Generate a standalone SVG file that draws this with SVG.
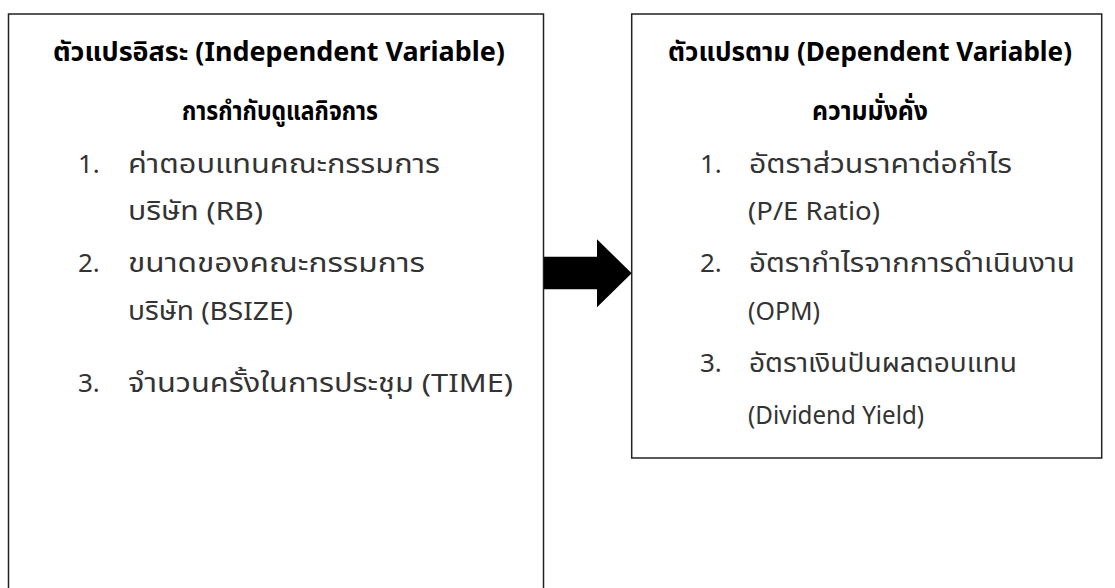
<svg xmlns="http://www.w3.org/2000/svg" width="1115" height="588" viewBox="0 0 1115 588">
<style>
.box{fill:#fff;stroke:#222;stroke-width:1.5}
.t{font-family:"Noto Sans","Noto Sans Thai",sans-serif;font-size:27px;font-weight:bold;fill:#000}
.b{font-family:"Noto Sans","Noto Sans Thai",sans-serif;font-size:26px;fill:#333}
</style>
<rect width="1115" height="588" fill="#fff"/>
<g id="independent">
<rect class="box" x="8.5" y="14" width="535" height="600"/>
<text class="t" x="53" y="61" textLength="452" lengthAdjust="spacingAndGlyphs">ตัวแปรอิสระ (Independent Variable)</text>
<text class="t" x="182" y="120" textLength="196" lengthAdjust="spacingAndGlyphs">การกำกับดูแลกิจการ</text>
<text class="b" x="78" y="173">1.</text>
<text class="b" x="128" y="173" textLength="312" lengthAdjust="spacingAndGlyphs">ค่าตอบแทนคณะกรรมการ</text>
<text class="b" x="128" y="220" textLength="135" lengthAdjust="spacingAndGlyphs">บริษัท (RB)</text>
<text class="b" x="78" y="272">2.</text>
<text class="b" x="128" y="272" textLength="297" lengthAdjust="spacingAndGlyphs">ขนาดของคณะกรรมการ</text>
<text class="b" x="128" y="320" textLength="165" lengthAdjust="spacingAndGlyphs">บริษัท (BSIZE)</text>
<text class="b" x="78" y="392">3.</text>
<text class="b" x="128" y="392" textLength="385" lengthAdjust="spacingAndGlyphs">จำนวนครั้งในการประชุม (TIME)</text>
</g>
<g id="dependent">
<rect class="box" x="631.7" y="14" width="470" height="444"/>
<text class="t" x="668" y="61" textLength="404" lengthAdjust="spacingAndGlyphs">ตัวแปรตาม (Dependent Variable)</text>
<text class="t" x="812" y="120" textLength="116" lengthAdjust="spacingAndGlyphs">ความมั่งคั่ง</text>
<text class="b" x="700" y="173">1.</text>
<text class="b" x="749" y="173" textLength="263" lengthAdjust="spacingAndGlyphs">อัตราส่วนราคาต่อกำไร</text>
<text class="b" x="748" y="220" textLength="132" lengthAdjust="spacingAndGlyphs">(P/E Ratio)</text>
<text class="b" x="700" y="272">2.</text>
<text class="b" x="749" y="272" textLength="326" lengthAdjust="spacingAndGlyphs">อัตรากำไรจากการดำเนินงาน</text>
<text class="b" x="748" y="320" textLength="72" lengthAdjust="spacingAndGlyphs">(OPM)</text>
<text class="b" x="700" y="372">3.</text>
<text class="b" x="749" y="372" textLength="268" lengthAdjust="spacingAndGlyphs">อัตราเงินปันผลตอบแทน</text>
<text class="b" x="748" y="424" textLength="176" lengthAdjust="spacingAndGlyphs">(Dividend Yield)</text>
</g>
<g id="connectors">
<polygon points="544,256.7 597,256.7 597,239.3 631.7,273.3 597,307.3 597,289.3 544,289.3" fill="#000"/>
</g>
</svg>
